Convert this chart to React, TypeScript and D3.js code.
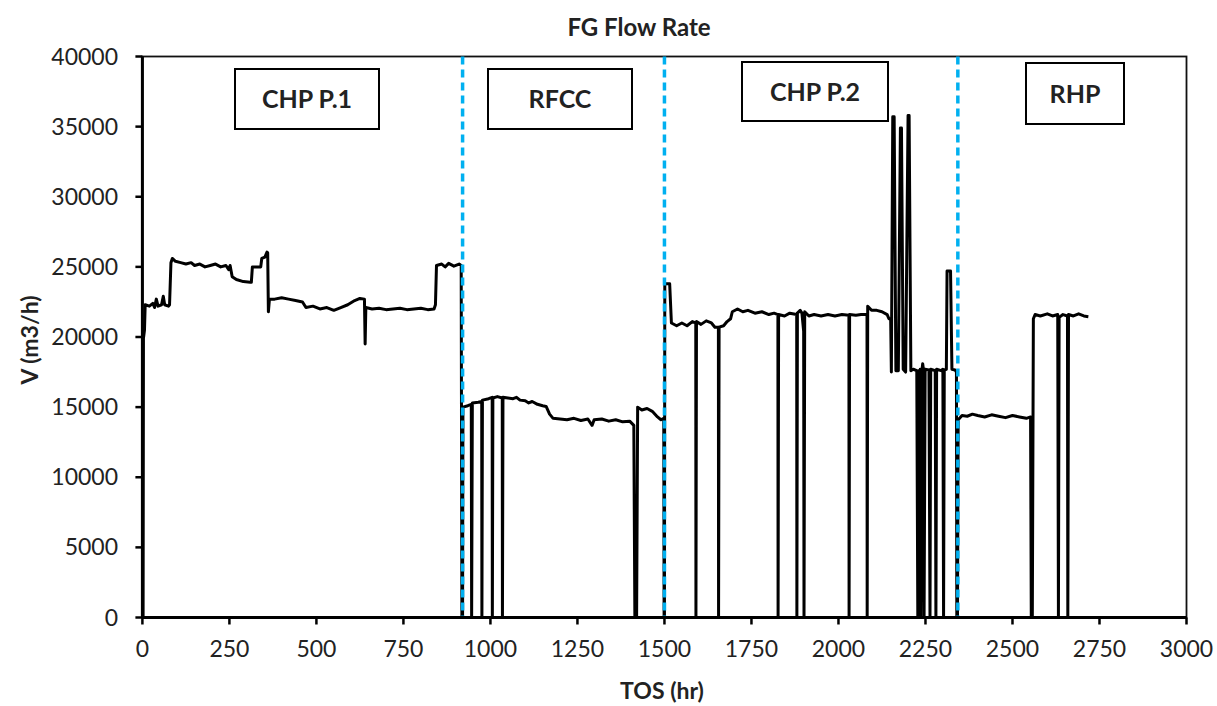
import React from 'react'
import { scaleLinear, line, range } from 'd3'

// [TOS (hr), V (m3/h)], one list per unit
const chp1: [number, number][] = [
  [0, 0], [2, 0], [3, 19900], [6, 20500], [8, 22300], [20, 22200], [30, 22400], [35, 22100],
  [40, 22700], [45, 22200], [55, 22300], [60, 22900], [64, 22300], [75, 22200], [78, 22300],
  [82, 25300], [86, 25600], [95, 25400], [110, 25300], [125, 25200], [140, 25300], [150, 25100],
  [165, 25200], [180, 25000], [195, 25100], [210, 25200], [225, 25000], [240, 25100], [248, 24800],
  [252, 25100], [258, 24300], [270, 24100], [290, 23950], [310, 23900], [313, 23900], [316, 25000],
  [340, 25000], [343, 25600], [352, 25700], [358, 26050], [360, 26000], [362, 21800], [365, 22700],
  [380, 22700], [400, 22800], [420, 22700], [440, 22600], [460, 22500], [470, 22100], [490, 22200],
  [510, 22000], [530, 22100], [550, 21900], [570, 22100], [590, 22300], [610, 22600], [625, 22750],
  [638, 22700], [640, 19500], [642, 22100], [660, 22000], [680, 22050], [700, 21950], [720, 22000],
  [740, 22050], [760, 21950], [780, 22000], [800, 22050], [820, 21950], [838, 22000], [842, 22300],
  [845, 25100], [860, 25200], [870, 25000], [880, 25250], [895, 25050], [910, 25200], [916, 25100],
  [918, 0],
]

const rfcc: [number, number][] = [
  [920, 0], [921, 15000], [935, 15100], [945, 15200], [946, 0], [948, 15300], [965, 15350],
  [975, 15400], [975.5, 0], [977, 15500], [995, 15600], [1005, 15700], [1005.5, 0], [1007, 15650],
  [1020, 15750], [1034, 15650], [1034.5, 0], [1036, 15700], [1050, 15650], [1065, 15600],
  [1075, 15700], [1085, 15500], [1100, 15450], [1110, 15300], [1120, 15400], [1135, 15200],
  [1150, 15100], [1160, 15050], [1170, 14500], [1180, 14200], [1200, 14150], [1220, 14100],
  [1240, 14200], [1260, 14050], [1280, 14150], [1292, 13700], [1298, 14100], [1320, 14150],
  [1340, 14000], [1360, 14100], [1380, 13950], [1400, 14000], [1412, 13700], [1415, 0], [1420, 0],
  [1423, 15000], [1435, 14800], [1450, 14900], [1465, 14700], [1480, 14300], [1490, 14100],
  [1498, 14200], [1499, 0],
]

const chp2: [number, number][] = [
  [1500, 0], [1501, 23800], [1515, 23800], [1520, 21000], [1535, 20800], [1550, 21000],
  [1565, 20800], [1580, 21100], [1590, 21000], [1590.5, 0], [1592, 21100], [1605, 20900],
  [1620, 21150], [1635, 21000], [1645, 20700], [1655, 20700], [1655.5, 0], [1657, 20700],
  [1670, 20800], [1680, 21100], [1690, 21300], [1695, 21800], [1710, 22000], [1725, 21800],
  [1740, 21900], [1760, 21700], [1780, 21800], [1800, 21600], [1815, 21700], [1826, 21600],
  [1826.5, 0], [1828, 21600], [1845, 21500], [1860, 21700], [1880, 21600], [1880.5, 0],
  [1882, 21700], [1890, 21900], [1895, 21700], [1900, 20400], [1901, 0], [1903, 21800],
  [1915, 21500], [1930, 21600], [1950, 21500], [1970, 21600], [1990, 21500], [2010, 21600],
  [2030, 21550], [2030.5, 0], [2032, 21600], [2050, 21550], [2065, 21600], [2082, 21600],
  [2082.5, 0], [2084, 22200], [2095, 21900], [2110, 21900], [2125, 21800], [2140, 21600],
  [2145, 21300], [2150, 21300], [2152, 17500], [2156, 35700], [2160, 35700], [2165, 17600],
  [2172, 17600], [2178, 34900], [2181, 34900], [2186, 17700], [2193, 17500], [2200, 35800],
  [2203, 35800], [2208, 17600], [2215, 17700], [2225, 17600], [2228, 0], [2230, 17600], [2232, 0],
  [2235, 17700], [2237, 0], [2240, 17650], [2242, 18100], [2244, 17700], [2246, 0], [2249, 17700],
  [2260, 17650], [2263, 0], [2265, 17700], [2278, 17600], [2280, 0], [2282, 17700], [2295, 17600],
  [2300, 17700], [2302, 0], [2304, 17650], [2310, 17700], [2312, 24700], [2322, 24700],
  [2326, 17700], [2335, 17650], [2339, 17500], [2340, 0],
]

const rhp: [number, number][] = [
  [2342, 0], [2344, 14100], [2355, 14400], [2370, 14350], [2385, 14500], [2400, 14400],
  [2420, 14300], [2440, 14450], [2460, 14350], [2480, 14250], [2500, 14400], [2520, 14300],
  [2540, 14200], [2552, 14300], [2554, 0], [2557, 0], [2560, 21300], [2565, 21600], [2580, 21500],
  [2600, 21650], [2615, 21500], [2630, 21600], [2632, 0], [2634, 21400], [2645, 21600],
  [2658, 21500], [2659, 0], [2661, 21600], [2675, 21500], [2690, 21650], [2705, 21500],
  [2718, 21450],
]

// unit changes (hr)
const dividers = [920, 1500, 2343]

const units = [
  { name: 'CHP P.1', x0: 235, x1: 379, y0: 69, y1: 129 },
  { name: 'RFCC', x0: 488, x1: 632, y0: 69, y1: 129 },
  { name: 'CHP P.2', x0: 742, x1: 888, y0: 62, y1: 121 },
  { name: 'RHP', x0: 1026, x1: 1124, y0: 63, y1: 124 },
]

const xTicks = range(0, 3001, 250)
const yTicks = range(0, 40001, 5000)

const FONT = 'Lato, "Open Sans", sans-serif'

const App = () => {
  const width = 1217
  const height = 706
  const left = 142.4
  const right = 1186.5
  const top = 56.5
  const bottom = 617.5

  const xscale = scaleLinear().domain([0, 3000]).range([left, right])
  const yscale = scaleLinear().domain([0, 40000]).range([bottom, top])

  const path = line<[number, number]>()
    .x(d => xscale(d[0]))
    .y(d => yscale(d[1]))

  const data = [...chp1, ...rfcc, ...chp2, ...rhp]

  return (
    <svg width={width} height={height} style={{ position: 'absolute', left: 0, top: 0, background: '#fff' }}>
      <rect x={0} y={0} width={width} height={height} fill='#fff' />
      <text x={639} y={36} textAnchor='middle' fontFamily={FONT} fontWeight='bold' fontSize='24px' fill='#222'>
        FG Flow Rate
      </text>

      <rect x={left} y={top} width={right - left} height={bottom - top} fill='none' stroke='#111' strokeWidth={1.8} />

      <path d={path(data) || ''} fill='none' stroke='#000' strokeWidth={3} strokeLinejoin='round' />

      {dividers.map(t => (
        <line key={t} x1={xscale(t)} x2={xscale(t)} y1={top} y2={bottom}
          stroke='#00B0F0' strokeWidth={3.5} strokeDasharray='8 5' />
      ))}

      <line x1={left} x2={right} y1={bottom} y2={bottom} stroke='#000' strokeWidth={3} />
      <line x1={left} x2={left} y1={top} y2={bottom} stroke='#000' strokeWidth={3} />

      {xTicks.map(t => (
        <g key={t}>
          <line x1={xscale(t)} x2={xscale(t)} y1={bottom} y2={bottom + 7} stroke='#000' strokeWidth={2.5} />
          <text x={xscale(t)} y={657} textAnchor='middle' fontFamily={FONT} fontSize='23px' fill='#222'>{t}</text>
        </g>
      ))}

      {yTicks.map(v => (
        <g key={v}>
          <line x1={left - 7} x2={left} y1={yscale(v)} y2={yscale(v)} stroke='#000' strokeWidth={2.5} />
          <text x={118} y={yscale(v)} dy='0.35em' textAnchor='end' fontFamily={FONT} fontSize='23px' fill='#222'>{v}</text>
        </g>
      ))}

      <text x={662} y={699} textAnchor='middle' fontFamily={FONT} fontWeight='bold' fontSize='23px' fill='#222'>
        TOS (hr)
      </text>
      <text transform='translate(38,340) rotate(-90)' textAnchor='middle' fontFamily={FONT} fontWeight='bold' fontSize='23px' fill='#222'>
        V (m3/h)
      </text>

      {units.map(u => (
        <g key={u.name}>
          <rect x={u.x0} y={u.y0} width={u.x1 - u.x0} height={u.y1 - u.y0} fill='#fff' stroke='#000' strokeWidth={2} />
          <text x={(u.x0 + u.x1) / 2} y={(u.y0 + u.y1) / 2} dy='0.36em' textAnchor='middle'
            fontFamily={FONT} fontWeight='bold' fontSize='25px' fill='#222'>{u.name}</text>
        </g>
      ))}
    </svg>
  )
}

export default App
